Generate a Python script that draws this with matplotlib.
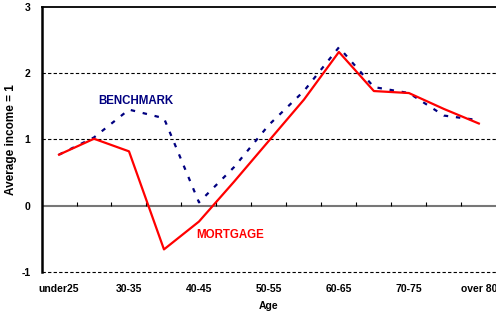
import matplotlib.pyplot as plt
import numpy as np

plt.rcParams['font.family'] = ['Liberation Sans', 'DejaVu Sans']
plt.rcParams['font.weight'] = 'bold'

# age groups, one point per group
ages = ['under25', '25-30', '30-35', '35-40', '40-45', '45-50', '50-55',
        '55-60', '60-65', '65-70', '70-75', '75-80', 'over 80']
mortgage = [0.77, 1.01, 0.82, -0.66, -0.24, 0.36, 0.98, 1.60, 2.32, 1.73, 1.70, 1.46, 1.24]
benchmark = [0.77, 1.03, 1.45, 1.32, 0.05, 0.58, 1.22, 1.73, 2.39, 1.79, 1.70, 1.36, 1.29]

x = np.arange(len(ages))

fig = plt.figure(figsize=(4.96, 3.14), dpi=100)
ax = fig.add_axes([0.0837, 0.134, 0.917, 0.844])

ax.plot(x, benchmark, color='#000080', lw=1.6, linestyle=(0, (2, 3.5)))
ax.plot(x, mortgage, color='#ff0000', lw=1.6)

ax.set_xlim(-0.5, len(ages) - 0.5)
ax.set_ylim(-1, 3)

# dashed gridlines
for yv in [1, 2, -1]:
    ax.axhline(yv, color='black', lw=0.8, linestyle=(0, (3, 2)), zorder=0, clip_on=False)
ax.axhline(0, color='#777777', lw=1.5, zorder=0)

ax.spines['right'].set_visible(False)
ax.spines['bottom'].set_visible(False)
ax.spines['left'].set_linewidth(1.8)
ax.spines['top'].set_linewidth(1.3)

ax.set_yticks([-1, 0, 1, 2, 3])
ax.set_yticklabels(['-1', '0', '1', '2', '3'], fontsize=7.5, fontweight='bold')
ax.tick_params(axis='y', length=0, pad=8)

ax.set_xticks(x[::2])
ax.set_xticklabels(ages[::2], fontsize=7.5, fontweight='bold')
ax.tick_params(axis='x', length=0, pad=9)

# category boundary ticks on the zero line
sec = ax.secondary_xaxis(0.25)
sec.set_xticks(x[:-1] + 0.5)
sec.set_xticklabels([])
sec.tick_params(direction='in', length=3, width=0.8, color='black')
sec.spines['bottom'].set_visible(False)

ax.set_xlabel('Age', fontsize=7.5, fontweight='bold', labelpad=5)
ax.set_ylabel('Average income = 1', fontsize=8.5, fontweight='bold')
ax.yaxis.set_label_coords(-0.053, 0.5)

ax.text(2.2, 1.58, 'BENCHMARK', color='#000080', fontsize=8.3, fontweight='bold',
        ha='center', va='center')
ax.text(4.9, -0.44, 'MORTGAGE', color='#ff0000', fontsize=8.3, fontweight='bold',
        ha='center', va='center')

fig.savefig('out.png', dpi=100)
